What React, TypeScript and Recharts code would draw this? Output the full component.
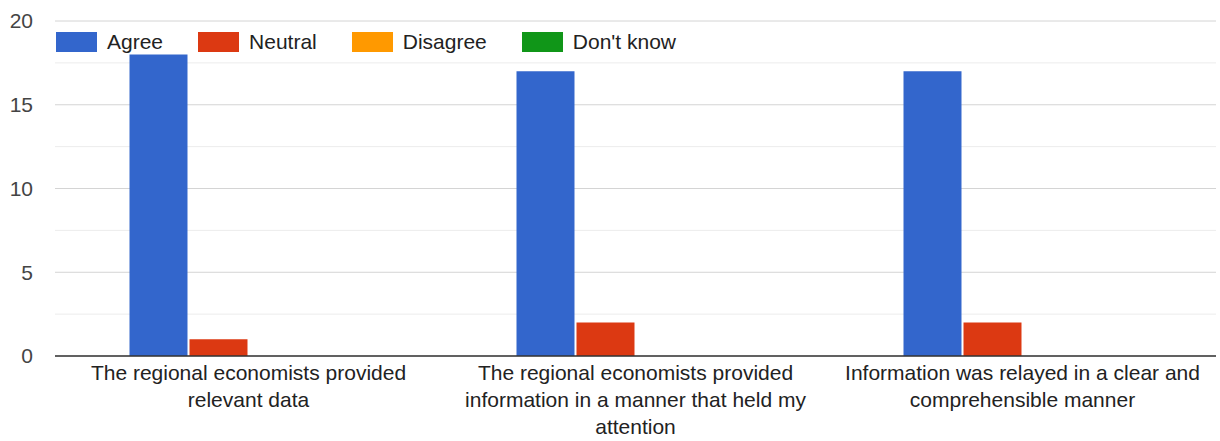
import { Bar, BarChart, CartesianGrid, ReferenceLine, XAxis, YAxis } from "recharts";

const categories = [
  "The regional economists provided relevant data",
  "The regional economists provided information in a manner that held my attention",
  "Information was relayed in a clear and comprehensible manner"
];
const tickLines = [
  ["The regional economists provided", "relevant data"],
  ["The regional economists provided", "information in a manner that held my", "attention"],
  ["Information was relayed in a clear and", "comprehensible manner"]
];
const agree = [18, 17, 17];
const neutral = [1, 2, 2];
const disagree = [0, 0, 0];
const dontKnow = [0, 0, 0];
const yTicks = [0, 5, 10, 15, 20];
const minorTicks = [2.5, 7.5, 12.5, 17.5];

const series = [
  { key: "agree", name: "Agree", color: "#3366cc" },
  { key: "neutral", name: "Neutral", color: "#dc3912" },
  { key: "disagree", name: "Disagree", color: "#ff9900" },
  { key: "dontKnow", name: "Don't know", color: "#109618" }
];

const data = categories.map((name, i) => ({
  name,
  agree: agree[i],
  neutral: neutral[i],
  disagree: disagree[i],
  dontKnow: dontKnow[i]
}));

const font = "'Liberation Sans', Arial, sans-serif";

function CategoryTick(props: any) {
  const { x, y, index } = props;
  const lines = tickLines[index] ?? [];
  return (
    <text x={x} y={y} textAnchor="middle" fill="#222" fontSize={21} fontFamily={font}>
      {lines.map((line, i) => (
        <tspan key={i} x={x} dy={i === 0 ? 24 : 27}>
          {line}
        </tspan>
      ))}
    </text>
  );
}

function LegendBox() {
  return (
    <div
      style={{
        position: "absolute",
        top: 32,
        left: 56,
        display: "flex",
        alignItems: "center",
        fontFamily: font,
        fontSize: 21,
        lineHeight: "20px",
        color: "#222",
        whiteSpace: "nowrap"
      }}
    >
      {series.map((s) => (
        <div key={s.key} style={{ display: "flex", alignItems: "center", marginRight: 35 }}>
          <div style={{ width: 41, height: 20, background: s.color, marginRight: 10 }} />
          <span>{s.name}</span>
        </div>
      ))}
    </div>
  );
}

export default function App() {
  return (
    <div style={{ position: "absolute", left: 0, top: 0, width: 1220, height: 441, background: "#fff" }}>
      <BarChart
        width={1220}
        height={441}
        data={data}
        margin={{ top: 21, right: 4, bottom: 0, left: 0 }}
        barCategoryGap="19.25%"
        barGap={2}
      >
        <CartesianGrid vertical={false} horizontalValues={minorTicks} stroke="#ececec" />
        <CartesianGrid vertical={false} stroke="#d4d4d4" />
        <XAxis
          dataKey="name"
          height={85}
          axisLine={false}
          tickLine={false}
          tickSize={0}
          tickMargin={0}
          interval={0}
          tick={<CategoryTick />}
        />
        <YAxis
          width={55}
          domain={[0, 20]}
          ticks={yTicks}
          axisLine={false}
          tickLine={false}
          tickSize={20}
          tickMargin={2}
          tick={{ fill: "#444", fontSize: 21, fontFamily: font }}
        />
        {series.map((s) => (
          <Bar key={s.key} dataKey={s.key} name={s.name} fill={s.color} isAnimationActive={false} />
        ))}
        <ReferenceLine y={0} stroke="#333" strokeWidth={1.5} />
      </BarChart>
      <LegendBox />
    </div>
  );
}
